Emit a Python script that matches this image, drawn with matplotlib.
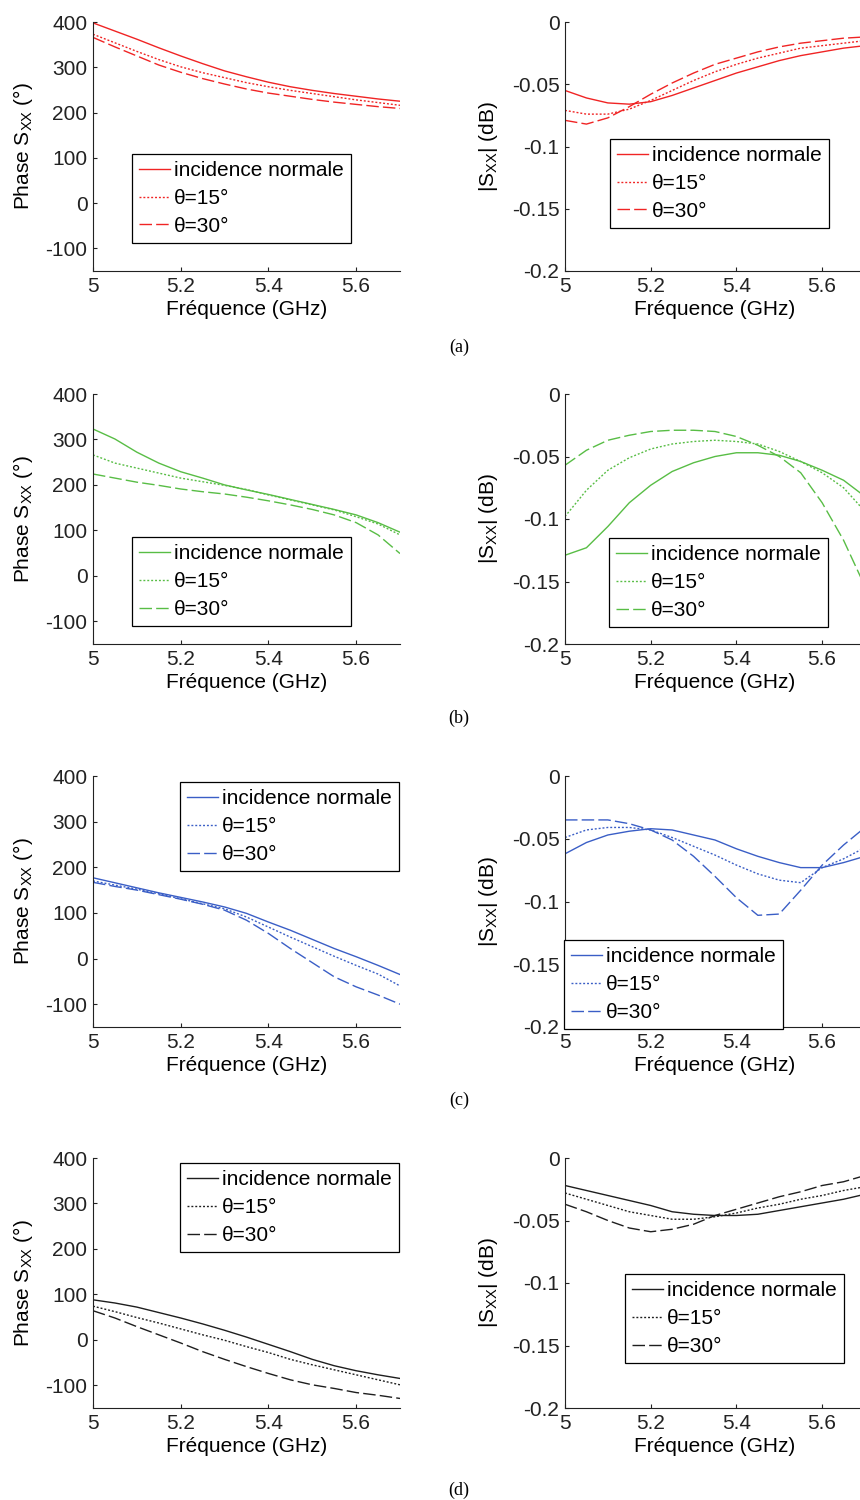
import matplotlib
matplotlib.use("Agg")
import matplotlib.pyplot as plt

plt.rcParams['font.family'] = ['Liberation Sans', 'DejaVu Sans']
plt.rcParams['mathtext.default'] = 'regular'
plt.rcParams['axes.unicode_minus'] = False

# frequency grid (GHz)
freq = [5.0, 5.05, 5.1, 5.15, 5.2, 5.25, 5.3, 5.35, 5.4, 5.45, 5.5, 5.55, 5.6, 5.65, 5.7]

labels = ['incidence normale', 'θ=15°', 'θ=30°']
panel_names = ['(a)', '(b)', '(c)', '(d)']
colors = ['#f02424', '#58bd45', '#3a5ec6', '#1e1e1e']

# (a) phase / module
phase_a_norm = [398, 380, 362, 343, 325, 308, 292, 279, 267, 257, 249, 242, 236, 230, 225]
phase_a_15 = [373, 354, 335, 317, 301, 288, 277, 266, 257, 249, 242, 235, 228, 222, 216]
phase_a_30 = [366, 345, 325, 305, 289, 275, 263, 252, 243, 236, 229, 223, 218, 213, 209]
mod_a_norm = [-0.055, -0.061, -0.065, -0.066, -0.064, -0.059, -0.053, -0.047, -0.041, -0.036, -0.031, -0.027, -0.024, -0.021, -0.019]
mod_a_15 = [-0.071, -0.074, -0.074, -0.070, -0.063, -0.055, -0.047, -0.040, -0.034, -0.029, -0.025, -0.021, -0.019, -0.017, -0.015]
mod_a_30 = [-0.079, -0.082, -0.077, -0.068, -0.058, -0.049, -0.041, -0.034, -0.029, -0.024, -0.020, -0.017, -0.015, -0.013, -0.012]

# (b)
phase_b_norm = [323, 301, 272, 248, 229, 215, 200, 189, 179, 168, 157, 146, 134, 117, 96]
phase_b_15 = [266, 248, 237, 226, 215, 207, 199, 190, 178, 167, 156, 145, 130, 114, 90]
phase_b_30 = [224, 215, 206, 199, 191, 185, 180, 173, 165, 156, 146, 134, 117, 90, 49]
mod_b_norm = [-0.129, -0.123, -0.106, -0.087, -0.073, -0.062, -0.055, -0.050, -0.047, -0.047, -0.049, -0.054, -0.061, -0.069, -0.082]
mod_b_15 = [-0.098, -0.077, -0.061, -0.051, -0.044, -0.040, -0.038, -0.037, -0.038, -0.040, -0.046, -0.054, -0.063, -0.075, -0.094]
mod_b_30 = [-0.057, -0.045, -0.037, -0.033, -0.030, -0.029, -0.029, -0.030, -0.034, -0.041, -0.050, -0.063, -0.087, -0.117, -0.154]

# (c)
phase_c_norm = [177, 166, 155, 144, 134, 124, 113, 99, 80, 62, 42, 22, 4, -15, -35]
phase_c_15 = [170, 161, 152, 142, 131, 120, 109, 91, 69, 47, 26, 5, -15, -34, -60]
phase_c_30 = [167, 158, 150, 140, 130, 119, 106, 84, 55, 22, -9, -40, -62, -80, -100]
mod_c_norm = [-0.062, -0.053, -0.047, -0.044, -0.042, -0.043, -0.047, -0.051, -0.058, -0.064, -0.069, -0.073, -0.073, -0.069, -0.064]
mod_c_15 = [-0.049, -0.043, -0.041, -0.041, -0.043, -0.049, -0.056, -0.063, -0.071, -0.078, -0.083, -0.085, -0.073, -0.066, -0.057]
mod_c_30 = [-0.035, -0.035, -0.035, -0.038, -0.043, -0.051, -0.064, -0.080, -0.097, -0.111, -0.110, -0.091, -0.071, -0.055, -0.041]

# (d)
phase_d_norm = [88, 81, 72, 60, 48, 35, 21, 6, -10, -26, -43, -57, -68, -77, -85]
phase_d_15 = [74, 62, 49, 37, 24, 11, -1, -15, -28, -43, -55, -66, -77, -88, -99]
phase_d_30 = [64, 48, 29, 11, -7, -26, -43, -59, -74, -88, -99, -107, -116, -122, -129]
mod_d_norm = [-0.022, -0.026, -0.030, -0.034, -0.038, -0.043, -0.045, -0.046, -0.046, -0.045, -0.042, -0.039, -0.036, -0.033, -0.029]
mod_d_15 = [-0.028, -0.033, -0.038, -0.043, -0.046, -0.049, -0.049, -0.047, -0.044, -0.040, -0.037, -0.033, -0.030, -0.026, -0.023]
mod_d_30 = [-0.037, -0.043, -0.050, -0.056, -0.059, -0.057, -0.053, -0.046, -0.041, -0.036, -0.031, -0.027, -0.022, -0.019, -0.014]

phases = [[phase_a_norm, phase_a_15, phase_a_30],
          [phase_b_norm, phase_b_15, phase_b_30],
          [phase_c_norm, phase_c_15, phase_c_30],
          [phase_d_norm, phase_d_15, phase_d_30]]
modules = [[mod_a_norm, mod_a_15, mod_a_30],
           [mod_b_norm, mod_b_15, mod_b_30],
           [mod_c_norm, mod_c_15, mod_c_30],
           [mod_d_norm, mod_d_15, mod_d_30]]

W, H = 860.0, 1500.0
# axes top / bottom in pixels for each row
row_top = [22, 394, 776, 1158]
row_bot = [271, 644, 1027, 1408]
# legend top-left corners in pixels (left plot, right plot)
leg_left = [(132, 154), (132, 537), (180, 782), (180, 1163)]
leg_right = [(610, 139), (609, 538), (564, 940), (625, 1274)]
tag_y = [347, 718, 1100, 1490]

styles = [dict(linestyle='-'),
          dict(linestyle=(0, (1.4, 1.4))),
          dict(linestyle=(0, (9, 3)))]

fig = plt.figure(figsize=(8.6, 15), dpi=100)


def style_axes(ax):
    for s in ['top', 'right']:
        ax.spines[s].set_visible(False)
    for s in ['left', 'bottom']:
        ax.spines[s].set_linewidth(0.8)
        ax.spines[s].set_color('#222222')
    ax.tick_params(direction='in', length=3, width=0.8, labelsize=15,
                   colors='#222222', pad=4)


def add_legend(ax, pos):
    ax.legend(loc='upper left', bbox_to_anchor=(pos[0] / W, 1 - pos[1] / H),
              bbox_transform=fig.transFigure, fontsize=15, frameon=True,
              fancybox=False, edgecolor='black', framealpha=1,
              borderpad=0.35, labelspacing=0.42, handlelength=1.45,
              handletextpad=0.2, borderaxespad=0)
    ax.get_legend().get_frame().set_linewidth(0.9)


for i in range(4):
    b = 1 - row_bot[i] / H
    h = (row_bot[i] - row_top[i]) / H
    c = colors[i]

    # phase
    ax1 = fig.add_axes([93 / W, b, 307 / W, h])
    for k in range(3):
        ax1.plot(freq, phases[i][k], color=c, lw=1.0, label=labels[k], **styles[k])
    ax1.set_xlim(5, 5.7)
    ax1.set_ylim(-150, 400)
    ax1.set_xticks([5, 5.2, 5.4, 5.6])
    ax1.set_xticklabels(['5', '5.2', '5.4', '5.6'])
    ax1.set_yticks([-100, 0, 100, 200, 300, 400])
    ax1.set_xlabel('Fréquence (GHz)', fontsize=15, labelpad=3)
    ax1.set_ylabel('Phase S$_{XX}$ (°)', fontsize=15)
    ax1.yaxis.set_label_coords(-0.19, 0.5)
    style_axes(ax1)
    add_legend(ax1, leg_left[i])

    # module
    ax2 = fig.add_axes([565 / W, b, 300 / W, h])
    for k in range(3):
        ax2.plot(freq, modules[i][k], color=c, lw=1.0, label=labels[k], **styles[k])
    ax2.set_xlim(5, 5.7)
    ax2.set_ylim(-0.2, 0)
    ax2.set_xticks([5, 5.2, 5.4, 5.6])
    ax2.set_xticklabels(['5', '5.2', '5.4', '5.6'])
    ax2.set_yticks([-0.2, -0.15, -0.1, -0.05, 0])
    ax2.set_yticklabels(['-0.2', '-0.15', '-0.1', '-0.05', '0'])
    ax2.set_xlabel('Fréquence (GHz)', fontsize=15, labelpad=3)
    ax2.set_ylabel('|S$_{XX}$| (dB)', fontsize=15)
    ax2.yaxis.set_label_coords(-0.215, 0.5)
    style_axes(ax2)
    add_legend(ax2, leg_right[i])

    fig.text(459 / W, 1 - tag_y[i] / H, panel_names[i], ha='center', va='center',
             fontsize=13, family=['Liberation Serif', 'DejaVu Serif'])

fig.savefig('out.png', dpi=100)
